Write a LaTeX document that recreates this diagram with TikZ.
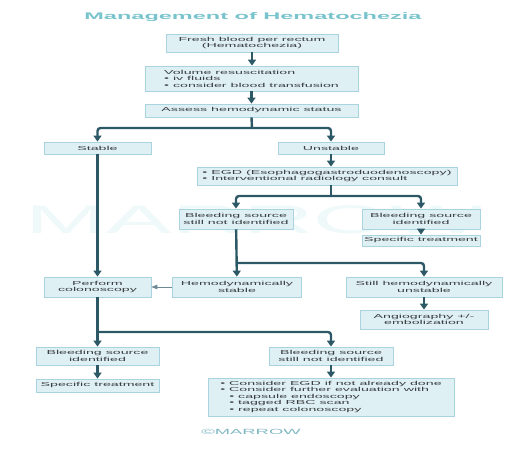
\documentclass[tikz,border=0pt]{standalone}
\usepackage{fontspec}
\setmainfont{Liberation Sans}[FakeStretch=2.45]
\usepackage{xcolor}
\usetikzlibrary{arrows.meta}
\definecolor{boxfill}{HTML}{DFF0F5}
\definecolor{boxline}{HTML}{A9D3DE}
\definecolor{boxtext}{HTML}{3A3F42}
\definecolor{flowline}{HTML}{2D5866}
\definecolor{titleblue}{HTML}{79C3CC}
\definecolor{markcol}{HTML}{EFF9FA}
\definecolor{copycol}{HTML}{7FB8C2}
\makeatletter
\renewcommand\small{%
  \@setfontsize\small{5.8pt}{6.5pt}%
}
\makeatother
\tikzset{
  box/.style={draw=boxline, fill=boxfill, line width=0.8pt, inner sep=0pt, align=center, text=boxtext},
  flow/.style={draw=flowline, line width=2.4pt, -{Triangle[width=8pt,length=6pt]}},
  joint/.style={draw=flowline, line width=2.4pt},
  sideflow/.style={draw=flowline!70, line width=0.9pt, -{Triangle[width=4.5pt,length=6pt]}},
}

\begin{document}
\begin{tikzpicture}[x=1pt, y=-1pt, every node/.style={font=\small}]
  \useasboundingbox (0,0) rectangle (512,449);
  \node[text=markcol, font=\fontsize{40}{40}\selectfont] (mark) at (254,220) {MARROW};
  \node[text=titleblue, font=\bfseries\fontsize{9.6}{11}\selectfont] (title) at (253,17) {Management of Hematochezia};
  \node[box, minimum width=172, minimum height=18] (fresh) at (252,43) {Fresh blood per rectum\\(Hematochezia)};
  \node[box, align=left, minimum width=213, minimum height=25] (volume) at (251.5,78.5) {Volume resuscitation\\• iv fluids\\• consider blood transfusion};
  \node[box, minimum width=213, minimum height=13] (assess) at (251.5,110.5) {Assess hemodynamic status};
  \node[box, minimum width=107, minimum height=12] (stable) at (97.5,148) {Stable};
  \node[box, minimum width=106, minimum height=12] (unstable) at (331,148) {Unstable};
  \node[box, align=left, minimum width=260, minimum height=18] (egd) at (327,176) {• EGD (Esophagogastroduodenoscopy)\\• Interventional radiology consult};
  \node[box, minimum width=114, minimum height=20] (snot1) at (236,219) {Bleeding source\\still not identified};
  \node[box, minimum width=118, minimum height=20] (sid1) at (421,219) {Bleeding source\\identified};
  \node[box, minimum width=118, minimum height=11] (spec1) at (421,240.5) {Specific treatment};
  \node[box, minimum width=107, minimum height=20] (colon) at (97.5,287) {Perform\\colonoscopy};
  \node[box, minimum width=129, minimum height=20] (hstable) at (237,287) {Hemodynamically\\stable};
  \node[box, minimum width=156, minimum height=20] (hunstable) at (424,287) {Still hemodynamically\\unstable};
  \node[box, minimum width=128, minimum height=19] (angio) at (424,319.5) {Angiography +/-\\embolization};
  \node[box, minimum width=123, minimum height=18] (sid2) at (97.5,356) {Bleeding source\\identified};
  \node[box, minimum width=124, minimum height=18] (snot2) at (331,356) {Bleeding source\\still not identified};
  \node[box, minimum width=123, minimum height=13] (spec2) at (97.5,385.5) {Specific treatment};
  \node[box, align=left, minimum width=246, minimum height=38] (further) at (331,397) {• Consider EGD if not already done\\• Consider further evaluation with\\\hspace*{9pt}• capsule endoscopy\\\hspace*{9pt}• tagged RBC scan\\\hspace*{9pt}• repeat colonoscopy};
  \node[text=copycol, font=\fontsize{7.5}{8}\selectfont] (copy) at (251,432) {©MARROW};

  \coordinate (split1) at (252,128);
  \coordinate (split2) at (331,196);
  \coordinate (split3) at (236,263);
  \coordinate (split4) at (97.5,332);

  \draw[flow] (fresh.south) -- (fresh.south |- volume.north);
  \draw[flow] (volume.south) -- (volume.south |- assess.north);
  \draw[joint] (assess.south) -- (split1);
  \draw[flow, rounded corners=3pt] (split1) -| (stable.north);
  \draw[flow, rounded corners=3pt] (split1) -| (unstable.north);
  \draw[flow] (unstable.south) -- (unstable.south |- egd.north);
  \draw[joint] (split2 |- egd.south) -- (split2);
  \draw[flow, rounded corners=3pt] (split2) -| (snot1.north);
  \draw[flow, rounded corners=3pt] (split2) -| (sid1.north);
  \draw[flow] (sid1) -- (spec1);
  \draw[flow] (stable) -- (colon);
  \draw[flow] (snot1) -- (hstable);
  \draw[flow, rounded corners=3pt] (split3) -| (hunstable.north);
  \draw[sideflow] (hstable) -- (colon);
  \draw[flow] (hunstable) -- (angio);
  \draw[flow] (colon) -- (sid2);
  \draw[flow, rounded corners=3pt] (split4) -| (snot2.north);
  \draw[flow] (sid2) -- (spec2);
  \draw[flow] (snot2) -- (further);
\end{tikzpicture}
\end{document}
